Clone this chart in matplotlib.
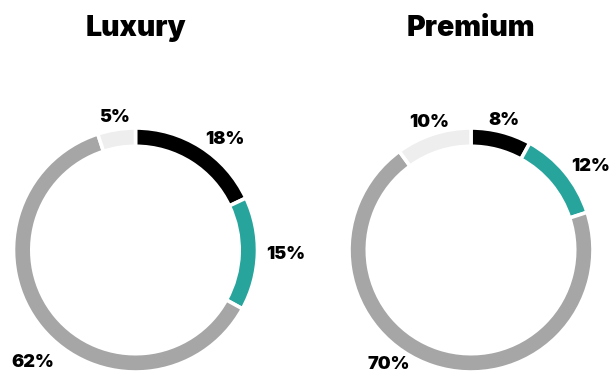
import numpy as np
import matplotlib
matplotlib.use("Agg")
import matplotlib.pyplot as plt

# segment shares, clockwise from 12 o'clock
titles = ["Luxury", "Premium"]
luxury = [18, 15, 62, 5]
premium = [8, 12, 70, 10]
colors = ["#000000", "#27a59d", "#a6a6a6", "#eeeeee"]

plt.rcParams["font.family"] = ["Inter", "DejaVu Sans"]

W, H = 612, 374
R = 122  # ring radius in pixels
fig = plt.figure(figsize=(W / 100, H / 100), dpi=100)

# (left px, right px, centre x px, centre y px, big label angle, big label radius)
layout = [(0, 306, 135.5, 250, -126, 1.14), (306, 612, 471, 250, -118, 1.06)]

for title, vals, (x0, x1, cx, cy, big_ang, big_r) in zip(titles, [luxury, premium], layout):
    ax = fig.add_axes([x0 / W, 0, (x1 - x0) / W, 1])
    ax.pie(vals, colors=colors, startangle=90, counterclock=False, radius=1,
           wedgeprops=dict(width=0.15, edgecolor="white", linewidth=2.6))
    ax.set_aspect("auto")
    ax.set_xlim((x0 - cx) / R, (x1 - cx) / R)
    ax.set_ylim((cy - H) / R, cy / R)
    ax.axis("off")

    ax.text(0, (cy - 29) / R, title, ha="center", va="center",
            fontsize=20.5, fontweight="black")

    # percentage labels placed around the ring at each segment's middle
    total = sum(vals)
    start = 90.0
    for v in vals:
        mid = start - v / total * 360 / 2
        start -= v / total * 360
        if v == max(vals):
            # the biggest segment is labelled at its lower-left
            a, r, ha = np.deg2rad(big_ang), big_r, "right"
        else:
            a = np.deg2rad(mid)
            c = np.cos(a)
            if abs(c) < 0.35:
                ha, r = "center", 1.1
            else:
                ha, r = ("left" if c > 0 else "right"), 1.07
        ax.text(r * np.cos(a), r * np.sin(a), f"{v}%", ha=ha, va="center",
                fontsize=13, fontweight="black")

fig.savefig("out.png", dpi=100)
